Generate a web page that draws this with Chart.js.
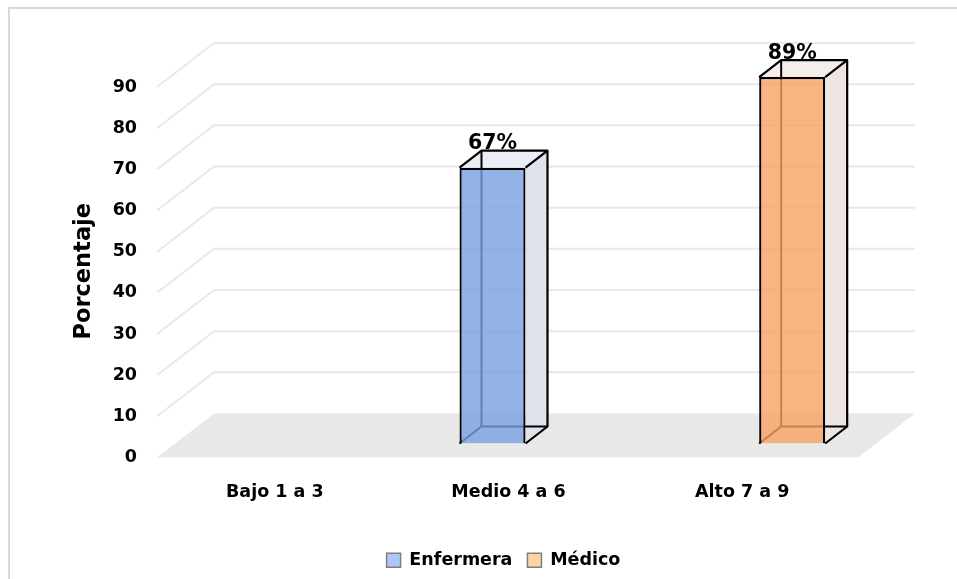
<!DOCTYPE html>
<html>
<head>
<meta charset="utf-8">
<script src="https://cdn.jsdelivr.net/npm/chart.js@4.4.0/dist/chart.umd.min.js"></script>
<style>
  html, body { margin: 0; padding: 0; background: #ffffff; }
  #wrap { width: 957px; height: 579px; }
</style>
</head>
<body>
<div id="wrap"><canvas id="chart" width="957" height="579"></canvas></div>
<script>
// Chart data
const categories = ['Bajo 1 a 3', 'Medio 4 a 6', 'Alto 7 a 9'];
const seriesNames = ['Enfermera', 'Médico'];
const enfermera = [null, 67, null];
const medico = [null, null, 89];
const yMax = 90;
const yStep = 10;
const yTitle = 'Porcentaje';

// Look of the 3D boxes (Excel style)
const faceColors = ['rgba(120,160,225,0.8)', 'rgba(249,161,99,0.8)'];
const sideColors = ['#dfe3ec', '#efe5e0'];
const topColors = ['#eaedf4', '#f5efeb'];
const legendColors = ['#abc8f5', '#fdd6a2'];
const FONT = "'DejaVu Sans', sans-serif";

// floor / wall geometry relative to the plane where the bars stand
const FRONT = { dx: -18, dy: 14 };
const BACK = { dx: 39, dy: -30 };
const BOX = { dx: 22, dy: -17 };

function poly(ctx, pts) {
    ctx.beginPath();
    ctx.moveTo(pts[0][0], pts[0][1]);
    for (let i = 1; i < pts.length; i++) ctx.lineTo(pts[i][0], pts[i][1]);
    ctx.closePath();
}

const frame3d = {
    id: 'frame3d',
    beforeDraw(chart) {
        const ctx = chart.ctx;
        ctx.save();
        ctx.strokeStyle = '#d9d9d9';
        ctx.lineWidth = 2;
        ctx.strokeRect(9, 8, 1000, 1000);
        ctx.restore();
    },
    beforeDatasetsDraw(chart) {
        const ctx = chart.ctx;
        const area = chart.chartArea;
        const yS = chart.scales.y;
        const fl = area.left + FRONT.dx, fr = area.right + FRONT.dx;
        const bl = area.left + BACK.dx, br = area.right + BACK.dx;
        const y0 = yS.getPixelForValue(0);

        ctx.save();
        // floor
        ctx.fillStyle = '#e8e8e8';
        poly(ctx, [[fl, y0 + FRONT.dy], [bl, y0 + BACK.dy], [br, y0 + BACK.dy], [fr, y0 + FRONT.dy]]);
        ctx.fill();

        // grid lines on side and back wall
        ctx.strokeStyle = '#e8e8e8';
        ctx.lineWidth = 2;
        for (let v = yStep; v <= yMax; v += yStep) {
            const yp = yS.getPixelForValue(v);
            ctx.beginPath();
            ctx.moveTo(fl, yp + FRONT.dy);
            ctx.lineTo(bl, yp + BACK.dy);
            ctx.lineTo(br, yp + BACK.dy);
            ctx.stroke();
        }

        // sides, tops and hidden edges of each box
        chart.data.datasets.forEach((ds, di) => {
            const meta = chart.getDatasetMeta(di);
            meta.data.forEach((el, i) => {
                if (ds.data[i] === null || ds.data[i] === undefined) return;
                const p = el.getProps(['x', 'y', 'base', 'width'], true);
                const l = p.x - p.width / 2, r = p.x + p.width / 2;
                const t = p.y, b = p.base;
                const dx = BOX.dx, dy = BOX.dy;

                ctx.fillStyle = sideColors[di];
                poly(ctx, [[r, t], [r + dx, t + dy], [r + dx, b + dy], [r, b]]);
                ctx.fill();
                ctx.fillStyle = topColors[di];
                poly(ctx, [[l, t], [l + dx, t + dy], [r + dx, t + dy], [r, t]]);
                ctx.fill();

                ctx.strokeStyle = '#000000';
                ctx.lineWidth = 2;
                ctx.beginPath();
                ctx.moveTo(l + dx, t + dy);
                ctx.lineTo(l + dx, b + dy);
                ctx.lineTo(r + dx, b + dy);
                ctx.moveTo(l, b);
                ctx.lineTo(l + dx, b + dy);
                ctx.stroke();

                ctx.lineWidth = 2.2;
                ctx.lineJoin = 'round';
                ctx.beginPath();
                ctx.moveTo(l, t);
                ctx.lineTo(l + dx, t + dy);
                ctx.lineTo(r + dx, t + dy);
                ctx.lineTo(r + dx, b + dy);
                ctx.lineTo(r, b);
                ctx.moveTo(r, t);
                ctx.lineTo(r + dx, t + dy);
                ctx.stroke();
            });
        });
        ctx.restore();
    },
    afterDatasetsDraw(chart) {
        const ctx = chart.ctx;
        ctx.save();
        ctx.fillStyle = '#000000';
        ctx.font = "bold 20.5px " + FONT;
        ctx.textAlign = 'center';
        ctx.textBaseline = 'alphabetic';
        chart.data.datasets.forEach((ds, di) => {
            const meta = chart.getDatasetMeta(di);
            meta.data.forEach((el, i) => {
                const v = ds.data[i];
                if (v === null || v === undefined) return;
                ctx.fillText(v + '%', el.x, el.y - 18.5);
            });
        });
        ctx.restore();
    },
    afterDraw(chart) {
        // y axis title, placed as in the original (a little below the axis middle)
        const ctx = chart.ctx;
        const area = chart.chartArea;
        ctx.save();
        ctx.translate(84, (area.top + area.bottom) / 2 + 13);
        ctx.rotate(-Math.PI / 2);
        ctx.fillStyle = '#000000';
        ctx.font = "bold 22.5px " + FONT;
        ctx.textAlign = 'center';
        ctx.textBaseline = 'middle';
        ctx.fillText(yTitle, 0, 0);
        ctx.restore();
    }
};

const ctx = document.getElementById('chart').getContext('2d');
const chart = new Chart(ctx, {
    type: 'bar',
    data: {
        labels: categories,
        datasets: [{
            label: seriesNames[0],
            data: enfermera,
            backgroundColor: faceColors[0],
            borderColor: '#000000',
            borderWidth: 2.2
        }, {
            label: seriesNames[1],
            data: medico,
            backgroundColor: faceColors[1],
            borderColor: '#000000',
            borderWidth: 2.2
        }]
    },
    options: {
        responsive: false,
        animation: false,
        layout: { padding: { left: 70, right: 20, top: 73, bottom: 0 } },
        datasets: { bar: { categoryPercentage: 0.565, barPercentage: 1 } },
        scales: {
            x: {
                grid: { display: false },
                border: { display: false },
                ticks: {
                    color: '#000000',
                    font: { family: FONT, size: 17.5, weight: 'bold' },
                    padding: 30,
                    labelOffset: -17,
                    maxRotation: 0
                },
                afterFit(s) { s.height = 93; }
            },
            y: {
                min: 0,
                max: yMax,
                grid: { display: false, drawTicks: false },
                border: { display: false },
                ticks: {
                    stepSize: yStep,
                    color: '#000000',
                    font: { family: FONT, size: 17.5, weight: 'bold' },
                    padding: 38,
                    labelOffset: 14
                },
                title: { display: false, text: yTitle },
                afterFit(s) { s.width = 105; }
            },
            yRight: {
                position: 'right',
                grid: { display: false },
                border: { display: false },
                ticks: { display: false },
                afterFit(s) { s.width = 61; }
            }
        },
        plugins: {
            legend: {
                position: 'bottom',
                labels: {
                    color: '#000000',
                    font: { family: FONT, size: 17.5, weight: 'bold' },
                    boxWidth: 14,
                    boxHeight: 14,
                    padding: 15,
                    generateLabels(chart) {
                        const items = Chart.defaults.plugins.legend.labels.generateLabels(chart);
                        items.forEach((it, i) => {
                            it.fillStyle = legendColors[i];
                            it.strokeStyle = '#7f7f7f';
                            it.lineWidth = 1.5;
                        });
                        return items;
                    }
                }
            },
            tooltip: { enabled: false }
        }
    },
    plugins: [frame3d]
});
</script>
</body>
</html>
